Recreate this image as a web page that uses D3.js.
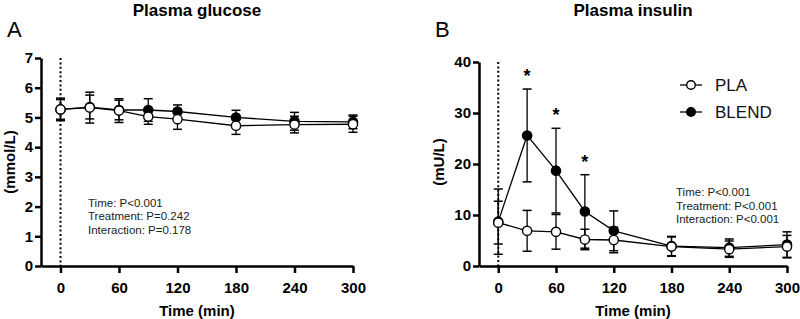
<!DOCTYPE html>
<html>
<head>
<meta charset="utf-8">
<script src="https://cdn.jsdelivr.net/npm/d3@7"></script>
<style>
  body { margin: 0; background: #fff; }
  svg { font-family: Arial, "Liberation Sans", sans-serif; }
  .axis path, .axis line { stroke: #000; stroke-width: 2.5; }
  .axis text { font-size: 15px; font-weight: bold; fill: #000; }
</style>
</head>
<body>
<div id="chart"></div>
<script>
const times = [0, 30, 60, 90, 120, 180, 240, 300];
const xTicks = [0, 60, 120, 180, 240, 300];

const glucosePla = [5.27, 5.33, 5.23, 5.03, 4.94, 4.72, 4.76, 4.77];
const glucosePlaSd = [0.33, 0.52, 0.40, 0.26, 0.34, 0.29, 0.28, 0.27];
const glucoseBlend = [5.27, 5.35, 5.25, 5.25, 5.20, 5.00, 4.87, 4.85];
const glucoseBlendSd = [0.38, 0.40, 0.33, 0.38, 0.22, 0.24, 0.30, 0.23];

const insulinPla = [8.5, 6.9, 6.7, 5.2, 5.1, 3.8, 3.3, 3.8];
const insulinPlaSd = [4.2, 4.0, 3.4, 2.0, 2.5, 1.9, 1.6, 2.2];
const insulinBlend = [8.7, 25.6, 18.7, 10.7, 6.9, 3.9, 3.6, 4.2];
const insulinBlendSd = [6.4, 9.1, 8.3, 7.2, 3.9, 1.9, 1.7, 2.5];
const insulinStars = [30, 60, 90];

const glucoseStats = ["Time: P<0.001", "Treatment: P=0.242", "Interaction: P=0.178"];
const insulinStats = ["Time: P<0.001", "Treatment: P<0.001", "Interaction: P<0.001"];

const svg = d3.select("#chart").append("svg")
    .attr("width", 800)
    .attr("height", 319);

function makeSeries(mean, sd) {
    return times.map((t, i) => ({ t: t, v: mean[i], sd: sd[i] }));
}

function drawPanel(opt) {
    let x = d3.scaleLinear().domain([-20, 300]).range(opt.xRange);
    let y = d3.scaleLinear().domain(opt.yDomain).range([266, opt.yTop]);

    let g = svg.append("g");

    // dotted line at time 0
    g.append("line")
        .attr("x1", x(0)).attr("x2", x(0))
        .attr("y1", y(opt.yDomain[1])).attr("y2", 266)
        .attr("stroke", "#000")
        .attr("stroke-width", 2)
        .attr("stroke-dasharray", "2,2.4");

    g.append("g")
        .attr("class", "axis")
        .attr("transform", "translate(" + opt.xRange[0] + ",0)")
        .call(d3.axisLeft(y).tickValues(opt.yTicks).tickFormat(d3.format("d"))
            .tickSize(6).tickPadding(2).tickSizeOuter(0));

    g.append("g")
        .attr("class", "axis")
        .attr("transform", "translate(0,266)")
        .call(d3.axisBottom(x).tickValues(xTicks).tickSize(7).tickPadding(9).tickSizeOuter(0));

    let line = d3.line().x(d => x(d.t)).y(d => y(d.v));
    let series = [
        { data: makeSeries(opt.blend, opt.blendSd), fill: "#000" },
        { data: makeSeries(opt.pla, opt.plaSd), fill: "#fff" }
    ];

    series.forEach(s => {
        g.append("path")
            .datum(s.data)
            .attr("fill", "none")
            .attr("stroke", "#000")
            .attr("stroke-width", 1.3)
            .attr("d", line);
    });

    series.forEach(s => {
        let eb = g.append("g").selectAll("g").data(s.data).join("g");
        eb.append("line")
            .attr("x1", d => x(d.t)).attr("x2", d => x(d.t))
            .attr("y1", d => y(d.v - d.sd)).attr("y2", d => y(d.v + d.sd))
            .attr("stroke", "#000").attr("stroke-width", 1.3);
        [-1, 1].forEach(k => {
            eb.append("line")
                .attr("x1", d => x(d.t) - 4.5).attr("x2", d => x(d.t) + 4.5)
                .attr("y1", d => y(d.v + k * d.sd)).attr("y2", d => y(d.v + k * d.sd))
                .attr("stroke", "#000").attr("stroke-width", 1.5);
        });
    });

    series.forEach(s => {
        g.append("g").selectAll("circle").data(s.data).join("circle")
            .attr("cx", d => x(d.t))
            .attr("cy", d => y(d.v))
            .attr("r", 4.6)
            .attr("fill", s.fill)
            .attr("stroke", "#000")
            .attr("stroke-width", 1.4);
    });

    // titles and labels
    let cx = (opt.xRange[0] + opt.xRange[1]) / 2;
    g.append("text").attr("x", cx).attr("y", 15.5).attr("text-anchor", "middle")
        .style("font-size", "17px").style("font-weight", "bold").text(opt.title);
    g.append("text").attr("x", opt.letterX).attr("y", 37)
        .style("font-size", "22px").text(opt.letter);
    g.append("text").attr("x", cx).attr("y", 315.5).attr("text-anchor", "middle")
        .style("font-size", "15px").style("font-weight", "bold").text("Time (min)");
    g.append("text")
        .attr("transform", "translate(" + opt.yLabelX + ",162) rotate(-90)")
        .attr("text-anchor", "middle")
        .style("font-size", "15px").style("font-weight", "bold").text(opt.yLabel);

    g.append("g").selectAll("text").data(opt.stats).join("text")
        .attr("x", opt.statsX)
        .attr("y", (d, i) => opt.statsY + i * 13.7)
        .style("font-size", "11.5px")
        .style("fill", "#222")
        .text(d => d);

    return { x: x, y: y, g: g };
}

drawPanel({
    xRange: [41, 353], yDomain: [0, 7], yTop: 58, yTicks: [0, 1, 2, 3, 4, 5, 6, 7],
    pla: glucosePla, plaSd: glucosePlaSd, blend: glucoseBlend, blendSd: glucoseBlendSd,
    title: "Plasma glucose", letter: "A", letterX: 7, yLabel: "(mmol/L)", yLabelX: 15,
    stats: glucoseStats, statsX: 88, statsY: 206.5
});

let b = drawPanel({
    xRange: [479, 787], yDomain: [0, 40], yTop: 62, yTicks: [0, 10, 20, 30, 40],
    pla: insulinPla, plaSd: insulinPlaSd, blend: insulinBlend, blendSd: insulinBlendSd,
    title: "Plasma insulin", letter: "B", letterX: 435, yLabel: "(mU/L)", yLabelX: 444,
    stats: insulinStats, statsX: 676, statsY: 196
});

// significance stars above the BLEND error bars
b.g.append("g").selectAll("text").data(insulinStars).join("text")
    .attr("x", t => b.x(t))
    .attr("y", t => {
        let i = times.indexOf(t);
        return b.y(insulinBlend[i] + insulinBlendSd[i]) - 7;
    })
    .attr("text-anchor", "middle")
    .style("font-size", "18px")
    .style("font-weight", "bold")
    .text("*");

// legend
const legendItems = [{ name: "PLA", fill: "#fff" }, { name: "BLEND", fill: "#000" }];
let lg = svg.append("g").selectAll("g").data(legendItems).join("g")
    .attr("transform", (d, i) => "translate(680," + (85 + i * 27) + ")");
lg.append("line").attr("x1", 0).attr("x2", 22).attr("stroke", "#000").attr("stroke-width", 1.3);
lg.append("circle").attr("cx", 11).attr("r", 4.3).attr("fill", d => d.fill)
    .attr("stroke", "#000").attr("stroke-width", 1.4);
lg.append("text").attr("x", 35).attr("y", 6)
    .style("font-size", "17px").style("fill", "#111").text(d => d.name);
</script>
</body>
</html>
